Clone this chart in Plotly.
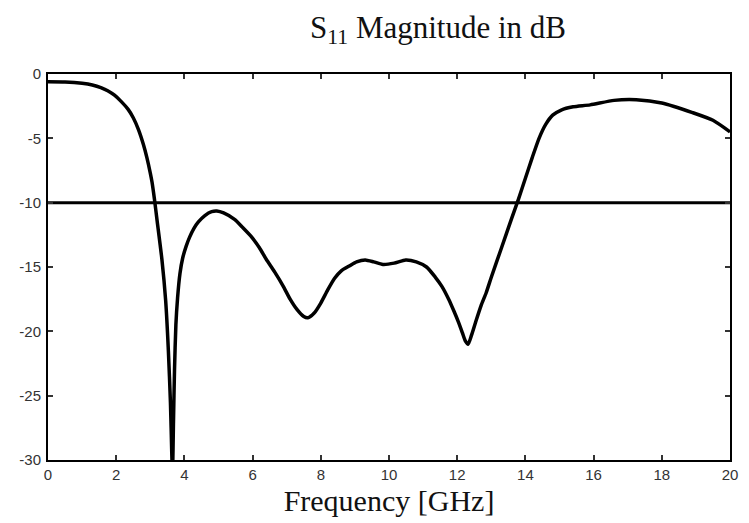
import plotly.graph_objects as go

# Frequency in GHz and S11 magnitude in dB
freq = [0.0, 0.5, 1.0, 1.3, 1.55, 1.75, 1.95, 2.15, 2.35, 2.5, 2.65, 2.8, 2.9, 3.0, 3.05, 3.12,
        3.2, 3.34, 3.45, 3.53, 3.59, 3.65, 3.68, 3.71, 3.75, 3.8, 3.87, 3.95, 4.05, 4.15, 4.28,
        4.41, 4.6, 4.8, 4.95, 5.15, 5.47, 5.7, 5.95, 6.2, 6.4, 6.65, 6.9, 7.1, 7.3, 7.5, 7.62,
        7.8, 8.0, 8.2, 8.4, 8.6, 8.85, 9.05, 9.3, 9.55, 9.82, 10.15, 10.49, 10.8, 11.1, 11.36,
        11.55, 11.75, 11.9, 12.04, 12.15, 12.23, 12.32, 12.42, 12.55, 12.7, 12.85, 13.0, 13.3,
        13.6, 13.8, 14.0, 14.2, 14.4, 14.6, 14.8, 15.05, 15.4, 15.9, 16.6, 17.25, 18.0, 18.9,
        19.5, 20.0]
s11_db = [-0.6, -0.62, -0.72, -0.85, -1.05, -1.3, -1.65, -2.15, -2.75, -3.4, -4.3, -5.5, -6.5,
          -7.7, -8.4, -9.7, -11.4, -14.4, -17.6, -21.5, -25.5, -31.0, -27.0, -23.0, -19.5,
          -17.4, -15.5, -14.3, -13.4, -12.7, -12.0, -11.5, -11.0, -10.7, -10.65, -10.8,
          -11.3, -11.9, -12.6, -13.5, -14.4, -15.4, -16.5, -17.5, -18.3, -18.85, -18.95,
          -18.6, -17.8, -16.8, -15.9, -15.3, -14.9, -14.6, -14.45, -14.6, -14.8, -14.7,
          -14.45, -14.6, -15.0, -15.8, -16.5, -17.5, -18.4, -19.3, -20.1, -20.7, -21.0,
          -20.3, -19.2, -18.0, -17.0, -15.8, -13.5, -11.2, -9.7, -8.1, -6.5, -5.0, -3.9,
          -3.2, -2.8, -2.55, -2.4, -2.05, -2.0, -2.25, -3.0, -3.6, -4.5]

threshold_freq = [0, 20]
threshold_db = [-10, -10]

x_ticks = [0, 2, 4, 6, 8, 10, 12, 14, 16, 18, 20]
y_ticks = [0, -5, -10, -15, -20, -25, -30]

fig = go.Figure()
fig.add_trace(go.Scatter(x=threshold_freq, y=threshold_db, mode="lines",
                         line=dict(color="black", width=3), showlegend=False))
fig.add_trace(go.Scatter(x=freq, y=s11_db, mode="lines",
                         line=dict(color="black", width=3.5, shape="spline", smoothing=0.6),
                         showlegend=False))

axis_common = dict(showline=True, linecolor="black", linewidth=2, mirror="ticks",
                   ticks="inside", ticklen=5, tickwidth=1.5, tickcolor="#333",
                   showgrid=False, zeroline=False,
                   tickfont=dict(family="Liberation Sans, Arial", size=15, color="#333"))

fig.update_xaxes(range=[0, 20], tickvals=x_ticks, ticktext=[str(v) for v in x_ticks],
                 title=dict(text="Frequency [GHz]", standoff=8,
                            font=dict(family="Liberation Serif, Times New Roman", size=30, color="#111")),
                 **axis_common)
fig.update_yaxes(range=[-30, 0], tickvals=y_ticks, ticktext=[str(v) for v in y_ticks],
                 ticklabelstandoff=2, **axis_common)

fig.update_layout(
    width=749, height=523,
    margin=dict(l=48, r=11, t=74, b=61),
    paper_bgcolor="white", plot_bgcolor="white",
    title=dict(text="S<sub>11</sub> Magnitude in dB", x=438 / 749, xref="container",
               xanchor="center", y=1 - 27 / 523, yanchor="middle",
               font=dict(family="Liberation Serif, Times New Roman", size=31, color="#111")),
)

fig.write_html("out.html")
